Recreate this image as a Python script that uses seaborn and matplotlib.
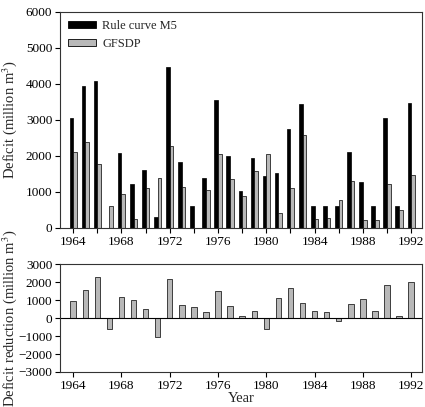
import numpy as np
import pandas as pd
import matplotlib
matplotlib.use("Agg")
import matplotlib.pyplot as plt
from matplotlib.patches import Patch
import seaborn as sns

# Yearly deficits (million m^3)
years = list(range(1964, 1993))
rule_curve_m5 = [3050, 3930, 4080, 0, 2070, 1230, 1620, 300, 4460, 1820,
                 610, 1380, 3540, 2000, 1030, 1940, 1450, 1520, 2750, 3430,
                 610, 610, 610, 2120, 1280, 610, 3040, 610, 3470]
gfsdp = [2100, 2390, 1780, 600, 930, 240, 1100, 1380, 2280, 1130,
         0, 1040, 2040, 1350, 900, 1570, 2050, 420, 1100, 2580,
         240, 270, 780, 1310, 230, 230, 1220, 500, 1460]
# Deficit reduction (bottom panel)
reduction = [960, 1550, 2300, -600, 1150, 1000, 520, -1080, 2200, 700,
             600, 350, 1500, 650, 130, 370, -600, 1100, 1650, 850,
             370, 340, -170, 810, 1050, 380, 1820, 110, 2000]

series_names = ["Rule curve M5", "GFSDP"]
bar_colors = {"Rule curve M5": "black", "GFSDP": "#b8b8b8"}

df = pd.DataFrame({
    "Year": years * 2,
    "Deficit": rule_curve_m5 + gfsdp,
    "Series": [series_names[0]] * len(years) + [series_names[1]] * len(years),
})
df_red = pd.DataFrame({"Year": years, "Reduction": reduction})

sns.set_style("ticks")
plt.rcParams["font.family"] = ["Liberation Serif", "DejaVu Serif"]
plt.rcParams["mathtext.fontset"] = "stix"
plt.rcParams["xtick.direction"] = "out"
plt.rcParams["ytick.direction"] = "out"

fig = plt.figure(figsize=(4.25, 4.07), dpi=100)
ax1 = fig.add_axes([0.141, 0.440, 0.852, 0.531])
ax2 = fig.add_axes([0.141, 0.086, 0.852, 0.265])

# top panel: grouped bars
sns.barplot(data=df, x="Year", y="Deficit", hue="Series", hue_order=series_names,
            palette=bar_colors, native_scale=True, width=0.6, dodge=True,
            edgecolor="black", linewidth=0.5, errorbar=None, ax=ax1)
if ax1.get_legend() is not None:
    ax1.get_legend().remove()

handles = [Patch(facecolor=bar_colors[n], edgecolor="black", linewidth=0.6) for n in series_names]
ax1.legend(handles, series_names, loc="upper left", frameon=False, fontsize=9,
           handlelength=2.2, handleheight=0.5, handletextpad=0.55,
           labelspacing=0.45, borderaxespad=0.25)

ax1.set_xlim(1962.9, 1992.9)
ax1.set_ylim(0, 6000)
ax1.set_yticks(range(0, 6001, 1000))
ticks2 = list(range(1964, 1993, 2))
ax1.set_xticks(ticks2)
ax1.set_xticklabels([str(t) if (t - 1964) % 4 == 0 else "" for t in ticks2])
ax1.set_xlabel("")
ax1.set_ylabel("Deficit (million m$^3$)", fontsize=10.5)
ax1.yaxis.set_label_coords(-0.112, 0.5)

# bottom panel: deficit reduction
sns.barplot(data=df_red, x="Year", y="Reduction", native_scale=True, width=0.45,
            color="#b8b8b8", edgecolor="black", linewidth=0.5, errorbar=None,
            saturation=1, ax=ax2)
ax2.axhline(0, color="black", linewidth=0.8)
ax2.set_xlim(1962.9, 1992.9)
ax2.set_ylim(-3000, 3000)
ax2.set_yticks(range(-3000, 3001, 1000))
ax2.set_yticklabels([f"{v}".replace("-", "\u2212") for v in range(-3000, 3001, 1000)])
ax2.set_xticks(range(1964, 1993, 4))
ax2.set_xlabel("Year", fontsize=10.5, labelpad=0.5)
ax2.set_ylabel("Deficit reduction (million m$^3$)", fontsize=10.5)
ax2.yaxis.set_label_coords(-0.112, 0.5)

for ax in (ax1, ax2):
    for s in ax.spines.values():
        s.set_visible(True)
        s.set_linewidth(0.8)
        s.set_color("#333333")
    ax.tick_params(labelsize=9.5, length=3.5, width=0.8, pad=2, colors="black")

fig.savefig("out.png", dpi=100)
